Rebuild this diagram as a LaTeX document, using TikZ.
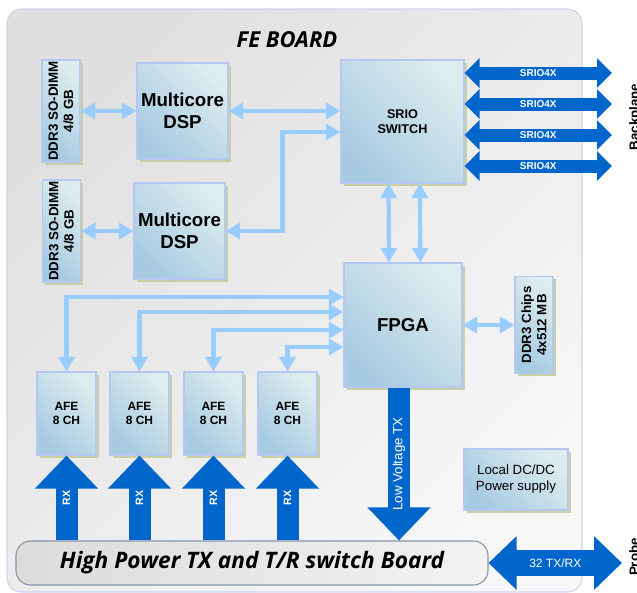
\documentclass[tikz,border=0pt]{standalone}
\usepackage{fontspec}
\setmainfont{Liberation Sans}
\newfontfamily\titlefont{Open Sans}
\usetikzlibrary{arrows.meta,shadows,calc}

\definecolor{lightarrow}{HTML}{99CCFF}
\definecolor{darkarrow}{HTML}{0066CC}
\definecolor{boxdark}{HTML}{A6CAE2}
\definecolor{boxlight}{HTML}{DDECEE}
\definecolor{boxline}{HTML}{B4C8F2}
\definecolor{boxshadow}{HTML}{C9CFA4}
\definecolor{boardA}{HTML}{E0E0E0}
\definecolor{boardB}{HTML}{F7F7F7}
\definecolor{boardline}{HTML}{D2D2EE}
\definecolor{hpA}{HTML}{DCDCDC}
\definecolor{hpB}{HTML}{F2F2F2}
\definecolor{hpline}{HTML}{8596A8}

\tikzset{
  board/.style={draw=boardline, line width=0.8pt, rounded corners=11pt,
    top color=boardA, bottom color=boardB, shading angle=45},
  unit/.style={draw=boxline, line width=0.8pt, top color=boxlight, bottom color=boxdark,
    shading angle=-45, general shadow={fill=boxshadow, shadow xshift=2pt, shadow yshift=-2pt},
    align=center, inner sep=0pt},
  vtext/.style={rotate=90, align=center, font=\fontsize{10}{11.5}\selectfont\bfseries},
  hpbox/.style={draw=hpline, line width=0.8pt, rounded corners=11pt,
    left color=hpA, right color=hpB},
  title/.style={font=\titlefont\fontsize{16.5}{19}\selectfont\bfseries\itshape},
  link/.style={draw=lightarrow, line width=3.2pt,
    {Triangle[length=11pt,width=12pt]}-{Triangle[length=11pt,width=12pt]}},
  fat/.style={draw=darkarrow, line width=16.5pt, -{Triangle[length=24.75pt,width=45.75pt]}},
  bus/.style={draw=darkarrow, line width=9.75pt,
    {Triangle[length=11.25pt,width=21.75pt]}-{Triangle[length=11.25pt,width=21.75pt]}},
  wide/.style={draw=darkarrow, line width=19.5pt,
    {Triangle[length=21pt,width=39pt]}-{Triangle[length=21pt,width=39pt]}},
  arrowtext/.style={text=white, inner sep=0pt, font=\fontsize{7.5}{9}\selectfont\bfseries},
  side/.style={rotate=90, inner sep=0pt, font=\fontsize{10}{12}\selectfont\bfseries}
}

\begin{document}
\begin{tikzpicture}[x=0.75pt, y=-0.75pt]
\useasboundingbox (0,0) rectangle (637,593);

% board
\draw[board] (7,9) rectangle (582,592);
\node[title] (fe) at (287,40) {FE BOARD};

% memories and DSPs
\node[unit, minimum width=28.5pt, minimum height=76.5pt,
  label={[vtext]center:DDR3 SO-DIMM\\4/8 GB}] (dimm1) at (61,111) {};
\node[unit, minimum width=28.5pt, minimum height=76.5pt,
  label={[vtext]center:DDR3 SO-DIMM\\4/8 GB}] (dimm2) at (61.5,231) {};
\node[unit, minimum width=68.25pt, minimum height=72pt,
  font=\fontsize{14}{16.5}\selectfont\bfseries] (dsp1) at (182.5,111) {Multicore\\DSP};
\node[unit, minimum width=68.25pt, minimum height=72pt,
  font=\fontsize{14}{16.5}\selectfont\bfseries] (dsp2) at (179.5,231) {Multicore\\DSP};

\node[unit, minimum width=92.25pt, minimum height=92.25pt,
  font=\fontsize{9.5}{11.5}\selectfont\bfseries] (srio) at (402.5,121.5) {SRIO\\SWITCH};
\node[unit, minimum width=88.5pt, minimum height=93pt,
  font=\fontsize{14}{16}\selectfont\bfseries] (fpga) at (403,325) {FPGA};
\node[unit, minimum width=28.5pt, minimum height=72.75pt,
  label={[vtext]center:DDR3 Chips\\4x512 MB}] (ddrc) at (534,325) {};

% front end
\foreach \i/\x in {1/66.5,2/139.5,3/213.5,4/287.5}
  \node[unit, minimum width=44.25pt, minimum height=62.25pt,
    font=\fontsize{9}{11}\selectfont\bfseries] (afe\i) at (\x,413.5) {AFE\\8 CH};

\node[unit, minimum width=78pt, minimum height=45.75pt,
  font=\fontsize{10}{12}\selectfont] (dcdc) at (516,479.5) {Local DC/DC\\Power supply};

\node[hpbox, minimum width=354pt, minimum height=33pt,
  font=\titlefont\fontsize{17}{20}\selectfont\bfseries\itshape] (hp) at (252,563)
  {High Power TX and T/R switch Board};

% light links
\draw[link] (dimm1) -- (dsp1);
\draw[link] (dimm2) -- (dsp2);
\draw[link] (dsp1.east) -- (dsp1.east -| srio.west);
\draw[link] (dsp2.east) -| ($(srio.west)+(-58,10.5)$) -- ($(srio.west)+(0,10.5)$);
\foreach \dx in {-10.5pt,13pt}
  \draw[link] ([xshift=\dx]srio.south) -- ([xshift=\dx]fpga.north);
\draw[link] (fpga) -- (ddrc);
\foreach \i/\dy in {1/-28,2/-13,3/5,4/22}
  \draw[link] (afe\i.north) |- ($(fpga.west)+(0,\dy)$);

% big arrows
\foreach \i in {1,...,4}
  \draw[fat] (hp.north -| afe\i) -- (afe\i.south)
    node[midway, rotate=90, arrowtext, font=\fontsize{8}{9}\selectfont\bfseries] {RX};
\coordinate (lvtop) at ([xshift=-3pt]fpga.south);
\draw[fat] (lvtop) -- (lvtop |- hp.north)
  node[midway, rotate=90, arrowtext, font=\fontsize{10}{12}\selectfont] {Low Voltage TX};

\coordinate (bp) at (612,0);
\foreach \i/\dy in {1/-48.5,2/-17.5,3/13.5,4/44.5}{
  \coordinate (sr\i) at ($(srio.east)+(0,\dy)$);
  \draw[bus] (sr\i) -- (sr\i -| bp) node[midway, arrowtext] {SRIO4X};
}
\coordinate (pr) at (622,0);
\draw[wide] (hp.east) -- (hp.east -| pr)
  node[midway, arrowtext, font=\fontsize{9}{11}\selectfont] {32 TX/RX};

\node[side, anchor=north] (bplabel) at (629,117) {Backplane};
\node[side, anchor=north] (prlabel) at (629,557) {Probe};
\end{tikzpicture}
\end{document}
